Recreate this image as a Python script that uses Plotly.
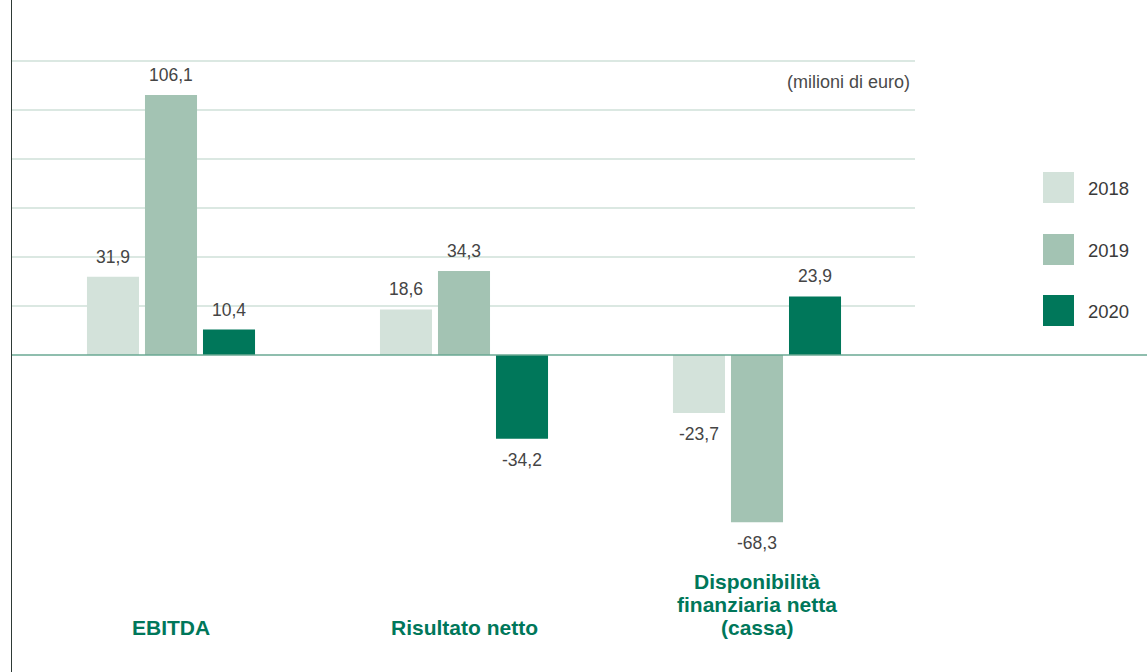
import plotly.graph_objects as go

categories = ["EBITDA", "Risultato netto", "Disponibilità<br>finanziaria netta<br>(cassa)"]
years = ["2018", "2019", "2020"]
values_2018 = [31.9, 18.6, -23.7]
values_2019 = [106.1, 34.3, -68.3]
values_2020 = [10.4, -34.2, 23.9]
series = [values_2018, values_2019, values_2020]
colors = ["#d3e2da", "#a3c3b3", "#00775a"]
gridlines = [20, 40, 60, 80, 100, 120]
unit_label = "(milioni di euro)"

W, H = 1147, 672
ML = 12
pw = W - ML
FONT = "Liberation Sans, Helvetica, Arial, sans-serif"

fig = go.Figure()
for yr, vals, col in zip(years, series, colors):
    fig.add_trace(go.Bar(x=categories, y=vals, name=yr, marker_color=col,
                         marker_line_width=0, showlegend=False, offsetgroup=yr,
                         hoverinfo="skip"))

# value labels
step = 58 / 293.0
for i, vals in enumerate(series):
    for j, v in enumerate(vals):
        fig.add_annotation(x=j + (i - 1) * step, y=v, xref="x", yref="y",
                           text=f"{v:.1f}".replace(".", ","), showarrow=False,
                           yshift=20 if v >= 0 else -21,
                           font=dict(family=FONT, size=17.5, color="#454545"))

# category labels (one annotation per line, bottom line aligned)
LINE = 23
last_center = 627
for j, c in enumerate(categories):
    lines = c.split("<br>")
    n = len(lines)
    for k, ln in enumerate(lines):
        yc = last_center - (n - 1 - k) * LINE
        fig.add_annotation(x=j, y=1 - yc / H, xref="x", yref="paper", text=f"<b>{ln}</b>",
                           showarrow=False, yanchor="middle", align="center",
                           font=dict(family=FONT, size=21, color="#00775a"))

# gridlines
grid_end = (915 - ML) / pw
shapes = []
for g in gridlines:
    shapes.append(dict(type="line", xref="paper", yref="y", x0=0, x1=grid_end, y0=g, y1=g,
                       line=dict(color="#cfe0d8", width=1.5), layer="below"))
shapes.append(dict(type="line", xref="paper", yref="y", x0=0, x1=1, y0=0, y1=0,
                   line=dict(color="#6aa893", width=1.5), layer="above"))

# legend
leg_x0 = (1043 - ML) / pw
leg_x1 = (1074 - ML) / pw
leg_tops = [172, 234, 295]
for yr, col, t in zip(years, colors, leg_tops):
    shapes.append(dict(type="rect", xref="paper", yref="paper", x0=leg_x0, x1=leg_x1,
                       y0=1 - (t + 31) / H, y1=1 - t / H, fillcolor=col, line=dict(width=0)))
    fig.add_annotation(x=(1086 - ML) / pw, y=1 - (t + 16) / H, xref="paper", yref="paper",
                       text=yr, showarrow=False, xanchor="left", yanchor="middle",
                       font=dict(family=FONT, size=18.5, color="#3a3a3a"))

fig.add_annotation(x=(912 - ML) / pw, y=1 - 82 / H, xref="paper", yref="paper",
                   text=unit_label, showarrow=False, xanchor="right", yanchor="middle",
                   font=dict(family=FONT, size=18, color="#4a4a4a"))

fig.update_layout(
    width=W, height=H,
    margin=dict(l=ML, r=0, t=0, b=0),
    plot_bgcolor="white", paper_bgcolor="white",
    barmode="group", bargap=0.406, bargroupgap=0.103,
    shapes=shapes,
    xaxis=dict(range=[-159 / 293, -159 / 293 + pw / 293], showgrid=False, zeroline=False,
               showticklabels=False, ticks=""),
    yaxis=dict(range=[-(H - 355) / 2.45, 355 / 2.45], showgrid=False, zeroline=False,
               showticklabels=False, ticks="", showline=True, linecolor="#2e3a36", linewidth=1),
)

fig.write_html("out.html", config={"displayModeBar": False},
               post_script="document.body.style.margin='0';document.body.style.overflow='hidden';")
